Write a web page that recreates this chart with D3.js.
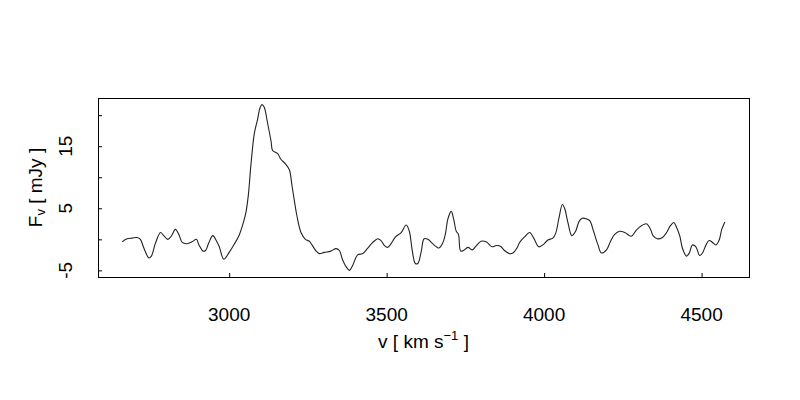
<!DOCTYPE html>
<html>
<head>
<meta charset="utf-8">
<script src="https://cdn.jsdelivr.net/npm/d3@7"></script>
<style>
  html, body { margin: 0; padding: 0; background: #fff; }
  svg { display: block; }
  text { font-family: "Liberation Sans", Arial, Helvetica, sans-serif; fill: #000; }
</style>
</head>
<body>
<svg id="chart" width="800" height="400"></svg>
<script>
// Velocity (km/s)
const velocity = [
  2660,2676,2692,2707,2718,2729,2745,2753,2766,2782,
  2792,2805,2816,2829,2840,2851,2866,2882,2896,2904,
  2917,2925,2935,2948,2960,2968,2983,3000,3016,3032,
  3042,3053,3061,3069,3080,3090,3098,3104,3111,3122,
  3133,3138,3154,3164,3178,3191,3199,3207,3215,3228,
  3242,3254,3263,3276,3286,3302,3323,3339,3350,3360,
  3371,3382,3392,3408,3424,3440,3456,3472,3482,3493,
  3503,3514,3528,3546,3562,3572,3581,3591,3599,3610,
  3619,3631,3646,3666,3678,3687,3694,3705,3713,3721,
  3728,3735,3744,3758,3772,3785,3800,3816,3835,3848,
  3861,3874,3890,3901,3914,3922,3938,3954,3967,3983,
  3996,4012,4028,4037,4047,4058,4065,4076,4088,4100,
  4111,4121,4134,4145,4157,4171,4182,4198,4211,4224,
  4240,4256,4277,4293,4309,4325,4338,4346,4359,4373,
  4389,4401,4412,4420,4431,4439,4452,4461,4471,4482,
  4494,4503,4514,4524,4535,4545,4556,4564,4574
];
// Flux density (mJy)
const flux = [
  -0.4,0.1,0.2,0.3,0.0,-1.4,-3.0,-2.7,-0.6,1.1,
  0.6,0.0,0.5,1.6,0.8,-0.5,-0.7,-0.4,0.0,-0.9,
  -1.9,-1.8,-0.6,0.6,-0.3,-1.1,-3.2,-2.1,-0.8,0.7,
  2.2,4.3,7.2,12.0,17.1,19.3,21.2,21.7,21.3,18.7,
  15.8,14.3,13.8,12.9,12.2,11.2,8.8,6.2,3.8,1.1,
  0.0,-0.3,-0.9,-1.9,-2.3,-2.1,-1.9,-1.5,-1.8,-3.3,
  -4.4,-5.0,-4.2,-2.5,-2.3,-1.4,-0.5,0.1,-0.2,-1.0,
  -1.3,-0.7,0.4,1.1,2.3,1.3,-1.7,-3.9,-3.9,-1.9,
  0.1,0.0,-0.7,-1.4,-0.6,1.0,3.2,4.5,3.2,1.3,
  0.8,-1.9,-1.8,-1.3,-1.7,-1.0,-0.3,-0.4,-1.2,-1.0,
  -1.1,-1.8,-2.3,-2.2,-1.4,-0.5,0.4,1.1,0.2,-1.2,
  -0.9,-0.1,0.2,1.0,3.4,5.6,5.0,2.6,0.6,1.3,
  2.9,3.4,3.3,3.0,1.3,-0.9,-2.2,-1.7,-0.3,0.8,
  1.3,1.1,0.5,1.5,2.2,2.5,1.6,0.6,0.1,0.2,
  1.1,2.2,2.7,2.0,0.5,-1.4,-2.7,-2.2,-0.9,-1.2,
  -2.6,-2.2,-0.9,-0.2,-0.5,-0.9,-0.1,1.6,2.8
];
const xTicks = [3000, 3500, 4000, 4500];
const yTicks = [-5, 0, 5, 10, 15, 20];
const yTickLabels = ["-5", "", "5", "", "15", ""];

(function () {
  const data = velocity.map((v, i) => ({ v, f: flux[i] }));

  const svg = d3.select("#chart");
  const mLeft = 98, mRight = 749, mTop = 98, mBottom = 277;

  // R-style 4% padding of data range
  const xExt = d3.extent(velocity), yExt = d3.extent(flux);
  const xPad = (xExt[1] - xExt[0]) * 0.04, yPad = (yExt[1] - yExt[0]) * 0.04;
  const x = d3.scaleLinear().domain([xExt[0] - xPad, xExt[1] + xPad]).range([mLeft, mRight]);
  const y = d3.scaleLinear().domain([yExt[0] - yPad, yExt[1] + yPad]).range([mBottom, mTop]);

  const fontSize = 19;

  // X axis (ticks inward)
  const xAxis = svg.append("g").attr("transform", `translate(0,${mBottom})`)
    .call(d3.axisBottom(x).tickValues(xTicks).tickSize(-4).tickSizeOuter(0).tickFormat(""));
  xAxis.select(".domain").remove();
  xAxis.selectAll(".tick line").attr("stroke", "#000");
  svg.append("g").selectAll("text").data(xTicks).join("text")
    .attr("x", d => x(d)).attr("y", 321)
    .attr("text-anchor", "middle").attr("font-size", fontSize)
    .text(d => d);

  // Y axis (ticks inward)
  const yAxis = svg.append("g").attr("transform", `translate(${mLeft},0)`)
    .call(d3.axisLeft(y).tickValues(yTicks).tickSize(-4).tickSizeOuter(0).tickFormat(""));
  yAxis.select(".domain").remove();
  yAxis.selectAll(".tick line").attr("stroke", "#000");
  svg.append("g").selectAll("text").data(yTicks).join("text")
    .attr("transform", d => `translate(72,${y(d)}) rotate(-90)`)
    .attr("text-anchor", "middle").attr("font-size", fontSize)
    .text((d, i) => yTickLabels[i]);

  // Box
  svg.append("rect")
    .attr("x", mLeft + 0.5).attr("y", mTop + 0.5)
    .attr("width", mRight - mLeft).attr("height", mBottom - mTop)
    .attr("fill", "none").attr("stroke", "#000").attr("stroke-width", 1);

  // Line
  const line = d3.line().x(d => x(d.v)).y(d => y(d.f)).curve(d3.curveCatmullRom.alpha(0.5));
  svg.append("path").datum(data)
    .attr("d", line)
    .attr("fill", "none").attr("stroke", "#222").attr("stroke-width", 1.1);

  // X label
  const xl = svg.append("text")
    .attr("x", (mLeft + mRight) / 2).attr("y", 348)
    .attr("text-anchor", "middle").attr("font-size", fontSize);
  xl.append("tspan").text("v [ km s");
  xl.append("tspan").attr("font-size", 13).attr("dy", -8).text("\u22121");
  xl.append("tspan").attr("dy", 8).text(" ]");

  // Y label
  const yl = svg.append("text")
    .attr("transform", `translate(42,${(mTop + mBottom) / 2}) rotate(-90)`)
    .attr("text-anchor", "middle").attr("font-size", fontSize);
  yl.append("tspan").text("F");
  yl.append("tspan").attr("font-size", 13).attr("dy", 3).text("v");
  yl.append("tspan").attr("dy", -3).text(" [ mJy ]");
})();
</script>
</body>
</html>
